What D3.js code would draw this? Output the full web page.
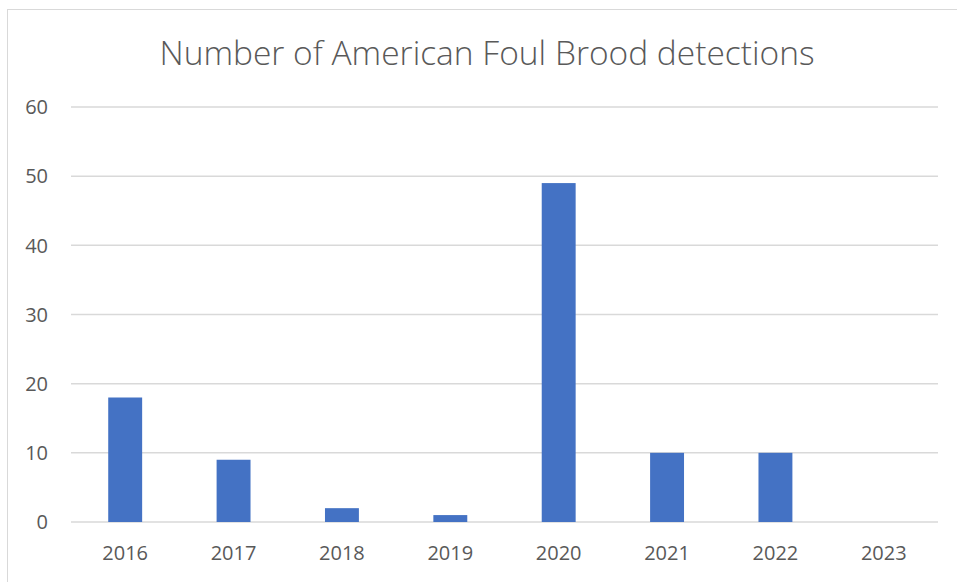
<!DOCTYPE html>
<html>
<head>
<meta charset="utf-8">
<script src="https://cdn.jsdelivr.net/npm/d3@7"></script>
<style>
  body { margin: 0; background: #fff; }
  text { font-family: "Open Sans", sans-serif; fill: #595959; }
</style>
</head>
<body>
<svg width="957" height="582"></svg>
<script>
var years = ["2016", "2017", "2018", "2019", "2020", "2021", "2022", "2023"];
var detections = [18, 9, 2, 1, 49, 10, 10, 0];
var yTicks = [0, 10, 20, 30, 40, 50, 60];

var svg = d3.select("svg")
    , width = +svg.attr("width")
    , height = +svg.attr("height");

// chart frame
svg.append("rect")
    .attr("x", 7.5).attr("y", 9.5)
    .attr("width", width).attr("height", height)
    .attr("fill", "none").attr("stroke", "#d9d9d9");

var plotLeft = 71, plotRight = 938, plotTop = 107, plotBottom = 522;

var x = d3.scaleBand().domain(years).range([plotLeft, plotRight]).paddingInner(0.687).paddingOuter(0.3435);
var y = d3.scaleLinear().domain([0, 60]).range([plotBottom, plotTop]);

svg.append("text")
    .attr("x", 487).attr("y", 65)
    .attr("text-anchor", "middle")
    .attr("font-size", 33.5)
    .attr("font-weight", 300)
    .text("Number of American Foul Brood detections");

svg.append("g").selectAll("line").data(yTicks).enter().append("line")
    .attr("x1", plotLeft).attr("x2", plotRight)
    .attr("y1", function (d) { return y(d); })
    .attr("y2", function (d) { return y(d); })
    .attr("stroke", "#d9d9d9").attr("stroke-width", 1.5);

svg.append("g").selectAll("text").data(yTicks).enter().append("text")
    .attr("x", 48).attr("y", function (d) { return y(d); })
    .attr("dy", "0.36em").attr("text-anchor", "end")
    .attr("font-size", 20)
    .text(function (d) { return d; });

svg.append("g").selectAll("rect").data(detections).enter().append("rect")
    .attr("x", function (d, i) { return x(years[i]); })
    .attr("width", x.bandwidth())
    .attr("y", function (d) { return y(d); })
    .attr("height", function (d) { return y(0) - y(d); })
    .attr("fill", "#4472c4");

svg.append("g").selectAll("text").data(years).enter().append("text")
    .attr("x", function (d) { return x(d) + x.bandwidth() / 2; })
    .attr("y", 560)
    .attr("text-anchor", "middle")
    .attr("font-size", 20)
    .text(function (d) { return d; });
</script>
</body>
</html>
